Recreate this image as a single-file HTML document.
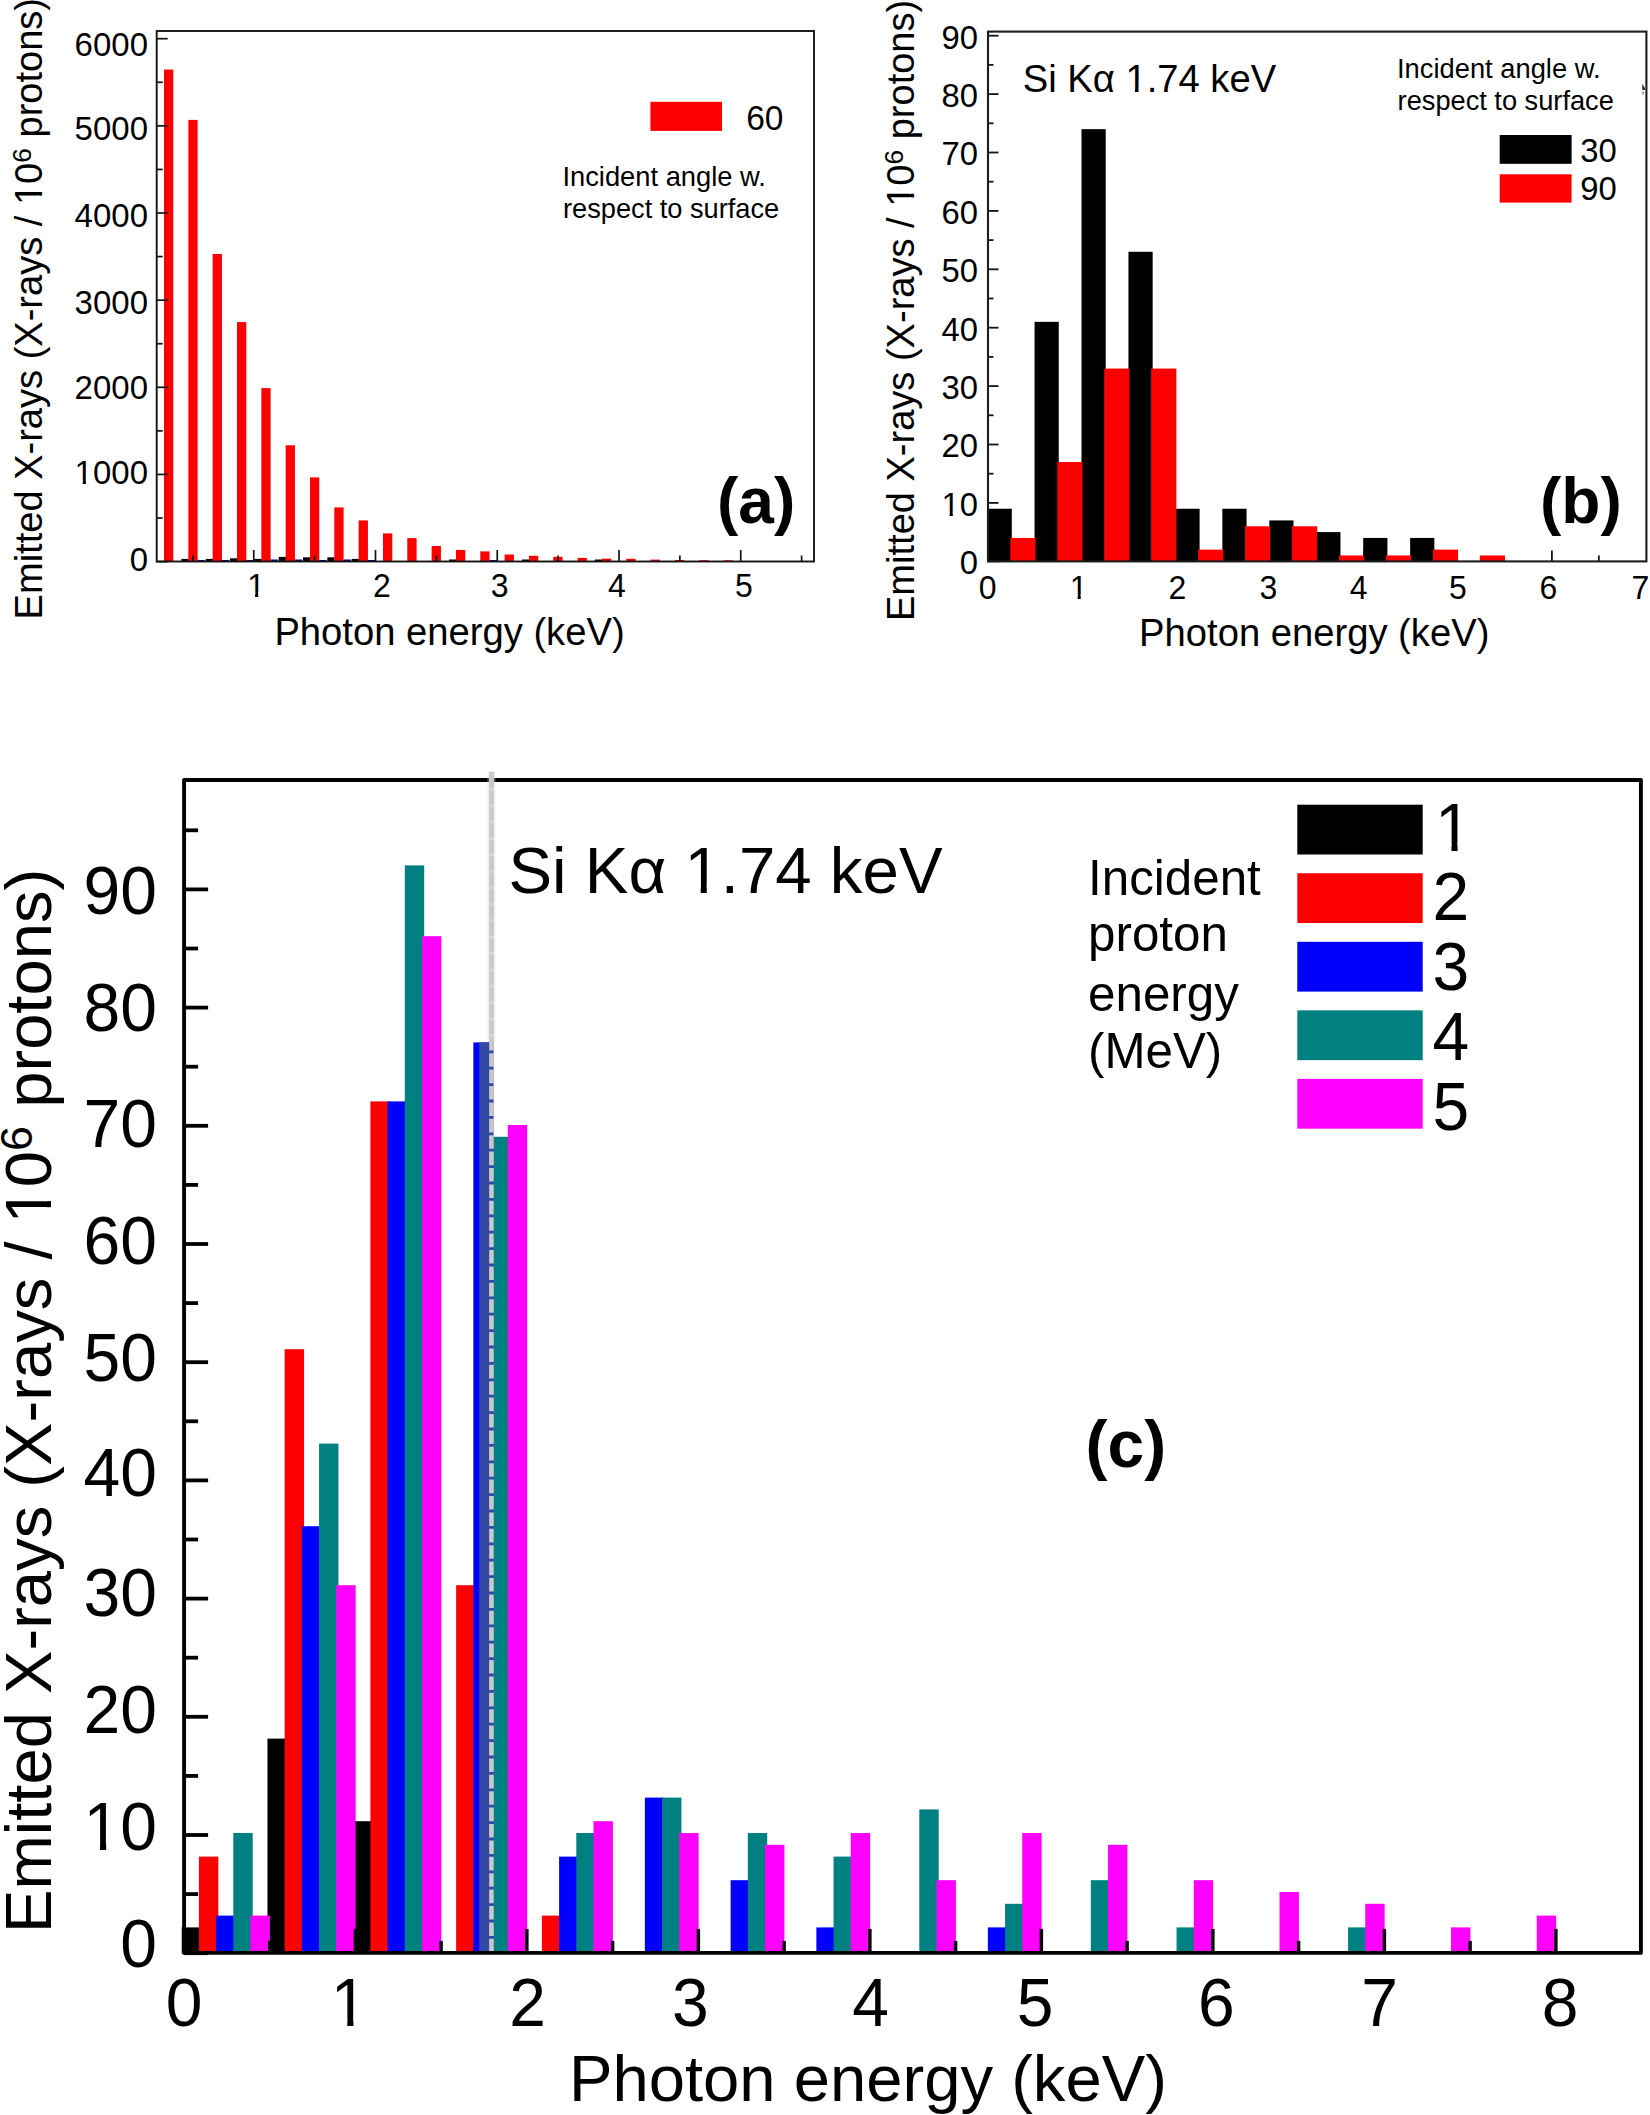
<!DOCTYPE html>
<html lang="en">
<head>
<meta charset="utf-8">
<title>Emitted X-rays vs photon energy</title>
<style>
html,body{margin:0;padding:0;background:#fff;}
body{width:1650px;height:2115px;overflow:hidden;}
svg{display:block;font-family:"Liberation Sans", sans-serif;fill:#000;}
</style>
</head>
<body>
<svg width="1650" height="2115" viewBox="0 0 1650 2115" shape-rendering="geometricPrecision">
<rect x="0" y="0" width="1650" height="2115" fill="#ffffff"/>
<rect x="164.00" y="69.60" width="9.30" height="491.90" fill="#ff0000"/>
<rect x="181.38" y="558.90" width="7.20" height="2.60" fill="#000"/>
<rect x="197.58" y="560.00" width="7.20" height="1.50" fill="#00008b"/>
<rect x="188.33" y="119.90" width="9.30" height="441.60" fill="#ff0000"/>
<rect x="205.71" y="558.90" width="7.20" height="2.60" fill="#000"/>
<rect x="221.91" y="560.00" width="7.20" height="1.50" fill="#00008b"/>
<rect x="212.66" y="254.00" width="9.30" height="307.50" fill="#ff0000"/>
<rect x="230.04" y="558.30" width="7.20" height="3.20" fill="#000"/>
<rect x="246.24" y="560.00" width="7.20" height="1.50" fill="#00008b"/>
<rect x="236.99" y="322.10" width="9.30" height="239.40" fill="#ff0000"/>
<rect x="254.37" y="558.90" width="7.20" height="2.60" fill="#000"/>
<rect x="270.57" y="559.50" width="7.20" height="2.00" fill="#00008b"/>
<rect x="261.32" y="388.10" width="9.30" height="173.40" fill="#ff0000"/>
<rect x="278.70" y="556.90" width="7.20" height="4.60" fill="#000"/>
<rect x="294.90" y="559.50" width="7.20" height="2.00" fill="#00008b"/>
<rect x="285.65" y="445.30" width="9.30" height="116.20" fill="#ff0000"/>
<rect x="303.03" y="557.30" width="7.20" height="4.20" fill="#000"/>
<rect x="319.23" y="560.00" width="7.20" height="1.50" fill="#00008b"/>
<rect x="309.98" y="477.40" width="9.30" height="84.10" fill="#ff0000"/>
<rect x="327.36" y="557.30" width="7.20" height="4.20" fill="#000"/>
<rect x="343.56" y="559.50" width="7.20" height="2.00" fill="#00008b"/>
<rect x="334.31" y="507.40" width="9.30" height="54.10" fill="#ff0000"/>
<rect x="351.69" y="558.90" width="7.20" height="2.60" fill="#000"/>
<rect x="367.89" y="560.00" width="7.20" height="1.50" fill="#00008b"/>
<rect x="358.64" y="520.40" width="9.30" height="41.10" fill="#ff0000"/>
<rect x="382.97" y="533.40" width="9.30" height="28.10" fill="#ff0000"/>
<rect x="407.30" y="538.10" width="9.30" height="23.40" fill="#ff0000"/>
<rect x="431.63" y="546.00" width="9.30" height="15.50" fill="#ff0000"/>
<rect x="449.01" y="559.50" width="7.20" height="2.00" fill="#000"/>
<rect x="455.96" y="549.90" width="9.30" height="11.60" fill="#ff0000"/>
<rect x="489.54" y="560.00" width="7.20" height="1.50" fill="#00008b"/>
<rect x="480.29" y="551.40" width="9.30" height="10.10" fill="#ff0000"/>
<rect x="504.62" y="554.50" width="9.30" height="7.00" fill="#ff0000"/>
<rect x="522.00" y="559.50" width="7.20" height="2.00" fill="#000"/>
<rect x="528.95" y="555.80" width="9.30" height="5.70" fill="#ff0000"/>
<rect x="553.28" y="556.80" width="9.30" height="4.70" fill="#ff0000"/>
<rect x="577.61" y="557.90" width="9.30" height="3.60" fill="#ff0000"/>
<rect x="594.99" y="559.50" width="7.20" height="2.00" fill="#000"/>
<rect x="601.94" y="558.60" width="9.30" height="2.90" fill="#ff0000"/>
<rect x="626.27" y="558.80" width="9.30" height="2.70" fill="#ff0000"/>
<rect x="650.60" y="559.60" width="9.30" height="1.90" fill="#ff0000"/>
<rect x="674.93" y="560.00" width="9.30" height="1.50" fill="#ff0000"/>
<rect x="699.26" y="560.20" width="9.30" height="1.30" fill="#ff0000"/>
<rect x="723.59" y="560.30" width="9.30" height="1.20" fill="#ff0000"/>
<line x1="156.70" y1="561.60" x2="167.70" y2="561.60" stroke="#141414" stroke-width="1.7"/>
<line x1="156.70" y1="518.02" x2="162.70" y2="518.02" stroke="#141414" stroke-width="1.7"/>
<line x1="156.70" y1="474.45" x2="167.70" y2="474.45" stroke="#141414" stroke-width="1.7"/>
<line x1="156.70" y1="430.88" x2="162.70" y2="430.88" stroke="#141414" stroke-width="1.7"/>
<line x1="156.70" y1="387.30" x2="167.70" y2="387.30" stroke="#141414" stroke-width="1.7"/>
<line x1="156.70" y1="343.73" x2="162.70" y2="343.73" stroke="#141414" stroke-width="1.7"/>
<line x1="156.70" y1="300.15" x2="167.70" y2="300.15" stroke="#141414" stroke-width="1.7"/>
<line x1="156.70" y1="256.57" x2="162.70" y2="256.57" stroke="#141414" stroke-width="1.7"/>
<line x1="156.70" y1="213.00" x2="167.70" y2="213.00" stroke="#141414" stroke-width="1.7"/>
<line x1="156.70" y1="169.43" x2="162.70" y2="169.43" stroke="#141414" stroke-width="1.7"/>
<line x1="156.70" y1="125.85" x2="167.70" y2="125.85" stroke="#141414" stroke-width="1.7"/>
<line x1="156.70" y1="82.27" x2="162.70" y2="82.27" stroke="#141414" stroke-width="1.7"/>
<line x1="156.70" y1="38.70" x2="167.70" y2="38.70" stroke="#141414" stroke-width="1.7"/>
<line x1="192.88" y1="561.50" x2="192.88" y2="555.50" stroke="#141414" stroke-width="1.7"/>
<line x1="253.75" y1="561.50" x2="253.75" y2="550.00" stroke="#141414" stroke-width="1.7"/>
<line x1="314.62" y1="561.50" x2="314.62" y2="555.50" stroke="#141414" stroke-width="1.7"/>
<line x1="375.50" y1="561.50" x2="375.50" y2="550.00" stroke="#141414" stroke-width="1.7"/>
<line x1="436.38" y1="561.50" x2="436.38" y2="555.50" stroke="#141414" stroke-width="1.7"/>
<line x1="497.25" y1="561.50" x2="497.25" y2="550.00" stroke="#141414" stroke-width="1.7"/>
<line x1="558.12" y1="561.50" x2="558.12" y2="555.50" stroke="#141414" stroke-width="1.7"/>
<line x1="619.00" y1="561.50" x2="619.00" y2="550.00" stroke="#141414" stroke-width="1.7"/>
<line x1="679.88" y1="561.50" x2="679.88" y2="555.50" stroke="#141414" stroke-width="1.7"/>
<line x1="740.75" y1="561.50" x2="740.75" y2="550.00" stroke="#141414" stroke-width="1.7"/>
<line x1="801.62" y1="561.50" x2="801.62" y2="555.50" stroke="#141414" stroke-width="1.7"/>
<rect x="156.7" y="31.0" width="657.3" height="530.5" fill="none" stroke="#141414" stroke-width="1.9"/>
<text transform="translate(148.00,571.20) scale(1,1.035)" font-size="33" text-anchor="end" font-weight="normal">0</text>
<text id="t0" transform="translate(148.00,484.40) scale(1,1.035)" font-size="33" text-anchor="end" font-weight="normal">1000</text>
<rect transform="translate(148.00,484.40) scale(1,1.035)" x="-71.89" y="-4.47" width="6.63" height="5.67" fill="#fff"/>
<rect transform="translate(148.00,484.40) scale(1,1.035)" x="-62.04" y="-4.47" width="6.38" height="5.67" fill="#fff"/>
<text transform="translate(148.00,398.90) scale(1,1.035)" font-size="33" text-anchor="end" font-weight="normal">2000</text>
<text transform="translate(148.00,313.80) scale(1,1.035)" font-size="33" text-anchor="end" font-weight="normal">3000</text>
<text transform="translate(148.00,227.00) scale(1,1.035)" font-size="33" text-anchor="end" font-weight="normal">4000</text>
<text transform="translate(148.00,140.40) scale(1,1.035)" font-size="33" text-anchor="end" font-weight="normal">5000</text>
<text transform="translate(148.00,55.80) scale(1,1.035)" font-size="33" text-anchor="end" font-weight="normal">6000</text>
<text id="t1" transform="translate(256.10,596.90) scale(1,1.035)" font-size="32" text-anchor="middle" font-weight="normal">1</text>
<rect transform="translate(256.10,596.90) scale(1,1.035)" x="-7.46" y="-4.39" width="6.46" height="5.59" fill="#fff"/>
<rect transform="translate(256.10,596.90) scale(1,1.035)" x="2.13" y="-4.39" width="6.21" height="5.59" fill="#fff"/>
<text transform="translate(381.80,596.90) scale(1,1.035)" font-size="32" text-anchor="middle" font-weight="normal">2</text>
<text transform="translate(499.60,596.90) scale(1,1.035)" font-size="32" text-anchor="middle" font-weight="normal">3</text>
<text transform="translate(616.80,596.90) scale(1,1.035)" font-size="32" text-anchor="middle" font-weight="normal">4</text>
<text transform="translate(743.90,596.90) scale(1,1.035)" font-size="32" text-anchor="middle" font-weight="normal">5</text>
<text x="274.40" y="645.10" font-size="38.2" text-anchor="start" font-weight="normal">Photon energy (keV)</text>
<text id="t2" transform="translate(42.00,619.40) rotate(-90)" font-size="38.06">Emitted X-rays (X-rays / 10<tspan font-size="26.26" dy="-10.85">6</tspan><tspan dy="10.85"> protons)</tspan></text>
<rect transform="translate(42.00,619.40) rotate(-90)" x="416.24" y="-4.84" width="7.52" height="6.04" fill="#fff"/>
<rect transform="translate(42.00,619.40) rotate(-90)" x="427.43" y="-4.84" width="7.23" height="6.04" fill="#fff"/>
<rect x="650.40" y="101.80" width="71.60" height="29.10" fill="#ff0000"/>
<text transform="translate(746.20,129.50) scale(1,1.035)" font-size="33.5" text-anchor="start" font-weight="normal">60</text>
<text x="562.40" y="186.00" font-size="26.9" text-anchor="start" font-weight="normal" textLength="203.5" lengthAdjust="spacingAndGlyphs">Incident angle w.</text>
<text x="563.00" y="218.40" font-size="26.9" text-anchor="start" font-weight="normal" textLength="216.2" lengthAdjust="spacingAndGlyphs">respect to surface</text>
<text x="717.00" y="523.30" font-size="64" text-anchor="start" font-weight="bold">(a)</text>
<line x1="988.00" y1="561.30" x2="998.50" y2="561.30" stroke="#141414" stroke-width="1.8"/>
<line x1="988.00" y1="532.10" x2="993.50" y2="532.10" stroke="#141414" stroke-width="1.8"/>
<line x1="988.00" y1="502.90" x2="998.50" y2="502.90" stroke="#141414" stroke-width="1.8"/>
<line x1="988.00" y1="473.70" x2="993.50" y2="473.70" stroke="#141414" stroke-width="1.8"/>
<line x1="988.00" y1="444.50" x2="998.50" y2="444.50" stroke="#141414" stroke-width="1.8"/>
<line x1="988.00" y1="415.30" x2="993.50" y2="415.30" stroke="#141414" stroke-width="1.8"/>
<line x1="988.00" y1="386.10" x2="998.50" y2="386.10" stroke="#141414" stroke-width="1.8"/>
<line x1="988.00" y1="356.90" x2="993.50" y2="356.90" stroke="#141414" stroke-width="1.8"/>
<line x1="988.00" y1="327.70" x2="998.50" y2="327.70" stroke="#141414" stroke-width="1.8"/>
<line x1="988.00" y1="298.50" x2="993.50" y2="298.50" stroke="#141414" stroke-width="1.8"/>
<line x1="988.00" y1="269.30" x2="998.50" y2="269.30" stroke="#141414" stroke-width="1.8"/>
<line x1="988.00" y1="240.10" x2="993.50" y2="240.10" stroke="#141414" stroke-width="1.8"/>
<line x1="988.00" y1="210.90" x2="998.50" y2="210.90" stroke="#141414" stroke-width="1.8"/>
<line x1="988.00" y1="181.70" x2="993.50" y2="181.70" stroke="#141414" stroke-width="1.8"/>
<line x1="988.00" y1="152.50" x2="998.50" y2="152.50" stroke="#141414" stroke-width="1.8"/>
<line x1="988.00" y1="123.30" x2="993.50" y2="123.30" stroke="#141414" stroke-width="1.8"/>
<line x1="988.00" y1="94.10" x2="998.50" y2="94.10" stroke="#141414" stroke-width="1.8"/>
<line x1="988.00" y1="64.90" x2="993.50" y2="64.90" stroke="#141414" stroke-width="1.8"/>
<line x1="988.00" y1="35.70" x2="998.50" y2="35.70" stroke="#141414" stroke-width="1.8"/>
<line x1="1035.45" y1="561.40" x2="1035.45" y2="555.40" stroke="#141414" stroke-width="1.8"/>
<line x1="1082.40" y1="561.40" x2="1082.40" y2="550.40" stroke="#141414" stroke-width="1.8"/>
<line x1="1129.35" y1="561.40" x2="1129.35" y2="555.40" stroke="#141414" stroke-width="1.8"/>
<line x1="1176.30" y1="561.40" x2="1176.30" y2="550.40" stroke="#141414" stroke-width="1.8"/>
<line x1="1223.25" y1="561.40" x2="1223.25" y2="555.40" stroke="#141414" stroke-width="1.8"/>
<line x1="1270.20" y1="561.40" x2="1270.20" y2="550.40" stroke="#141414" stroke-width="1.8"/>
<line x1="1317.15" y1="561.40" x2="1317.15" y2="555.40" stroke="#141414" stroke-width="1.8"/>
<line x1="1364.10" y1="561.40" x2="1364.10" y2="550.40" stroke="#141414" stroke-width="1.8"/>
<line x1="1411.05" y1="561.40" x2="1411.05" y2="555.40" stroke="#141414" stroke-width="1.8"/>
<line x1="1551.90" y1="561.40" x2="1551.90" y2="550.40" stroke="#141414" stroke-width="1.8"/>
<line x1="1598.85" y1="561.40" x2="1598.85" y2="555.40" stroke="#141414" stroke-width="1.8"/>
<rect x="987.60" y="508.74" width="24.20" height="52.56" fill="#000"/>
<rect x="1034.55" y="321.86" width="24.20" height="239.44" fill="#000"/>
<rect x="1081.50" y="129.14" width="24.20" height="432.16" fill="#000"/>
<rect x="1128.45" y="251.78" width="24.20" height="309.52" fill="#000"/>
<rect x="1175.40" y="508.74" width="24.20" height="52.56" fill="#000"/>
<rect x="1222.35" y="508.74" width="24.20" height="52.56" fill="#000"/>
<rect x="1269.30" y="520.42" width="24.20" height="40.88" fill="#000"/>
<rect x="1316.25" y="532.10" width="24.20" height="29.20" fill="#000"/>
<rect x="1363.20" y="537.94" width="24.20" height="23.36" fill="#000"/>
<rect x="1410.15" y="537.94" width="24.20" height="23.36" fill="#000"/>
<rect x="1010.30" y="537.94" width="25.20" height="23.36" fill="#ff0000"/>
<rect x="1057.25" y="462.02" width="25.20" height="99.28" fill="#ff0000"/>
<rect x="1104.20" y="368.58" width="25.20" height="192.72" fill="#ff0000"/>
<rect x="1151.15" y="368.58" width="25.20" height="192.72" fill="#ff0000"/>
<rect x="1198.10" y="549.62" width="25.20" height="11.68" fill="#ff0000"/>
<rect x="1245.05" y="526.26" width="25.20" height="35.04" fill="#ff0000"/>
<rect x="1292.00" y="526.26" width="25.20" height="35.04" fill="#ff0000"/>
<rect x="1338.95" y="555.46" width="25.20" height="5.84" fill="#ff0000"/>
<rect x="1385.90" y="555.46" width="25.20" height="5.84" fill="#ff0000"/>
<rect x="1432.85" y="549.62" width="25.20" height="11.68" fill="#ff0000"/>
<rect x="1479.80" y="555.46" width="25.20" height="5.84" fill="#ff0000"/>
<rect x="988.0" y="31.6" width="658.4000000000001" height="529.8" fill="none" stroke="#1c1c1c" stroke-width="2.1"/>
<path d="M1642.2 84 L1644.9 88 L1644.9 89.9 L1642.4 89.9Z" fill="#1a1f45"/>
<path d="M1642.3 91.5 L1644.2 91.8 L1643.7 94 L1642.2 95Z" fill="#8a8f96"/>
<text transform="translate(978.00,574.20) scale(1,1.035)" font-size="32.8" text-anchor="end" font-weight="normal">0</text>
<text id="t3" transform="translate(978.00,515.80) scale(1,1.035)" font-size="32.8" text-anchor="end" font-weight="normal">10</text>
<rect transform="translate(978.00,515.80) scale(1,1.035)" x="-34.97" y="-4.45" width="6.60" height="5.65" fill="#fff"/>
<rect transform="translate(978.00,515.80) scale(1,1.035)" x="-25.17" y="-4.45" width="6.34" height="5.65" fill="#fff"/>
<text transform="translate(978.00,457.40) scale(1,1.035)" font-size="32.8" text-anchor="end" font-weight="normal">20</text>
<text transform="translate(978.00,399.00) scale(1,1.035)" font-size="32.8" text-anchor="end" font-weight="normal">30</text>
<text transform="translate(978.00,340.60) scale(1,1.035)" font-size="32.8" text-anchor="end" font-weight="normal">40</text>
<text transform="translate(978.00,282.20) scale(1,1.035)" font-size="32.8" text-anchor="end" font-weight="normal">50</text>
<text transform="translate(978.00,223.80) scale(1,1.035)" font-size="32.8" text-anchor="end" font-weight="normal">60</text>
<text transform="translate(978.00,165.40) scale(1,1.035)" font-size="32.8" text-anchor="end" font-weight="normal">70</text>
<text transform="translate(978.00,107.00) scale(1,1.035)" font-size="32.8" text-anchor="end" font-weight="normal">80</text>
<text transform="translate(978.00,48.60) scale(1,1.035)" font-size="32.8" text-anchor="end" font-weight="normal">90</text>
<text transform="translate(987.60,598.80) scale(1,1.035)" font-size="32" text-anchor="middle" font-weight="normal">0</text>
<text id="t4" transform="translate(1078.60,598.80) scale(1,1.035)" font-size="32" text-anchor="middle" font-weight="normal">1</text>
<rect transform="translate(1078.60,598.80) scale(1,1.035)" x="-7.46" y="-4.39" width="6.46" height="5.59" fill="#fff"/>
<rect transform="translate(1078.60,598.80) scale(1,1.035)" x="2.13" y="-4.39" width="6.21" height="5.59" fill="#fff"/>
<text transform="translate(1177.40,598.80) scale(1,1.035)" font-size="32" text-anchor="middle" font-weight="normal">2</text>
<text transform="translate(1268.30,598.80) scale(1,1.035)" font-size="32" text-anchor="middle" font-weight="normal">3</text>
<text transform="translate(1358.70,598.80) scale(1,1.035)" font-size="32" text-anchor="middle" font-weight="normal">4</text>
<text transform="translate(1457.80,598.80) scale(1,1.035)" font-size="32" text-anchor="middle" font-weight="normal">5</text>
<text transform="translate(1548.30,598.80) scale(1,1.035)" font-size="32" text-anchor="middle" font-weight="normal">6</text>
<text transform="translate(1640.40,598.80) scale(1,1.035)" font-size="32" text-anchor="middle" font-weight="normal">7</text>
<text x="1139.10" y="645.50" font-size="38.2" text-anchor="start" font-weight="normal">Photon energy (keV)</text>
<text id="t5" transform="translate(914.00,621.00) rotate(-90)" font-size="38.04">Emitted X-rays (X-rays / 10<tspan font-size="26.25" dy="-10.84">6</tspan><tspan dy="10.84"> protons)</tspan></text>
<rect transform="translate(914.00,621.00) rotate(-90)" x="416.07" y="-4.84" width="7.52" height="6.04" fill="#fff"/>
<rect transform="translate(914.00,621.00) rotate(-90)" x="427.25" y="-4.84" width="7.22" height="6.04" fill="#fff"/>
<text id="t6" x="1022.70" y="92.10" font-size="38.2" text-anchor="start" font-weight="normal">Si Kα 1.74 keV</text>
<rect x="1127.33" y="87.25" width="7.55" height="6.05" fill="#fff"/>
<rect x="1138.55" y="87.25" width="7.25" height="6.05" fill="#fff"/>
<text x="1397.00" y="77.60" font-size="26.9" text-anchor="start" font-weight="normal" textLength="203.5" lengthAdjust="spacingAndGlyphs">Incident angle w.</text>
<text x="1397.60" y="110.00" font-size="26.9" text-anchor="start" font-weight="normal" textLength="216.2" lengthAdjust="spacingAndGlyphs">respect to surface</text>
<rect x="1499.70" y="135.00" width="71.90" height="28.80" fill="#000"/>
<rect x="1499.70" y="174.30" width="71.90" height="28.30" fill="#ff0000"/>
<text transform="translate(1580.30,162.30) scale(1,1.035)" font-size="32.8" text-anchor="start" font-weight="normal">30</text>
<text transform="translate(1580.30,200.40) scale(1,1.035)" font-size="32.8" text-anchor="start" font-weight="normal">90</text>
<text x="1540.00" y="523.30" font-size="64" text-anchor="start" font-weight="bold">(b)</text>
<rect x="181.70" y="1927.40" width="19.40" height="26.10" fill="#000000"/>
<rect x="267.45" y="1738.60" width="19.40" height="214.90" fill="#000000"/>
<rect x="353.20" y="1821.20" width="19.40" height="132.30" fill="#000000"/>
<rect x="198.90" y="1856.60" width="19.40" height="96.90" fill="#ff0000"/>
<rect x="284.65" y="1349.20" width="19.40" height="604.30" fill="#ff0000"/>
<rect x="370.40" y="1101.40" width="19.40" height="852.10" fill="#ff0000"/>
<rect x="456.15" y="1585.20" width="19.40" height="368.30" fill="#ff0000"/>
<rect x="541.90" y="1915.60" width="19.40" height="37.90" fill="#ff0000"/>
<rect x="216.10" y="1915.60" width="19.40" height="37.90" fill="#0000ff"/>
<rect x="301.85" y="1526.20" width="19.40" height="427.30" fill="#0000ff"/>
<rect x="387.60" y="1101.40" width="19.40" height="852.10" fill="#0000ff"/>
<rect x="473.35" y="1042.40" width="19.40" height="911.10" fill="#0000ff"/>
<rect x="559.10" y="1856.60" width="19.40" height="96.90" fill="#0000ff"/>
<rect x="644.85" y="1797.60" width="19.40" height="155.90" fill="#0000ff"/>
<rect x="730.60" y="1880.20" width="19.40" height="73.30" fill="#0000ff"/>
<rect x="816.35" y="1927.40" width="19.40" height="26.10" fill="#0000ff"/>
<rect x="987.85" y="1927.40" width="19.40" height="26.10" fill="#0000ff"/>
<rect x="233.30" y="1833.00" width="19.40" height="120.50" fill="#008080"/>
<rect x="319.05" y="1443.60" width="19.40" height="509.90" fill="#008080"/>
<rect x="404.80" y="865.40" width="19.40" height="1088.10" fill="#008080"/>
<rect x="490.55" y="1136.80" width="19.40" height="816.70" fill="#008080"/>
<rect x="576.30" y="1833.00" width="19.40" height="120.50" fill="#008080"/>
<rect x="662.05" y="1797.60" width="19.40" height="155.90" fill="#008080"/>
<rect x="747.80" y="1833.00" width="19.40" height="120.50" fill="#008080"/>
<rect x="833.55" y="1856.60" width="19.40" height="96.90" fill="#008080"/>
<rect x="919.30" y="1809.40" width="19.40" height="144.10" fill="#008080"/>
<rect x="1005.05" y="1903.80" width="19.40" height="49.70" fill="#008080"/>
<rect x="1090.80" y="1880.20" width="19.40" height="73.30" fill="#008080"/>
<rect x="1176.55" y="1927.40" width="19.40" height="26.10" fill="#008080"/>
<rect x="1348.05" y="1927.40" width="19.40" height="26.10" fill="#008080"/>
<rect x="250.50" y="1915.60" width="19.40" height="37.90" fill="#ff00ff"/>
<rect x="336.25" y="1585.20" width="19.40" height="368.30" fill="#ff00ff"/>
<rect x="422.00" y="936.20" width="19.40" height="1017.30" fill="#ff00ff"/>
<rect x="507.75" y="1125.00" width="19.40" height="828.50" fill="#ff00ff"/>
<rect x="593.50" y="1821.20" width="19.40" height="132.30" fill="#ff00ff"/>
<rect x="679.25" y="1833.00" width="19.40" height="120.50" fill="#ff00ff"/>
<rect x="765.00" y="1844.80" width="19.40" height="108.70" fill="#ff00ff"/>
<rect x="850.75" y="1833.00" width="19.40" height="120.50" fill="#ff00ff"/>
<rect x="936.50" y="1880.20" width="19.40" height="73.30" fill="#ff00ff"/>
<rect x="1022.25" y="1833.00" width="19.40" height="120.50" fill="#ff00ff"/>
<rect x="1108.00" y="1844.80" width="19.40" height="108.70" fill="#ff00ff"/>
<rect x="1193.75" y="1880.20" width="19.40" height="73.30" fill="#ff00ff"/>
<rect x="1279.50" y="1892.00" width="19.40" height="61.50" fill="#ff00ff"/>
<rect x="1365.25" y="1903.80" width="19.40" height="49.70" fill="#ff00ff"/>
<rect x="1451.00" y="1927.40" width="19.40" height="26.10" fill="#ff00ff"/>
<rect x="1536.75" y="1915.60" width="19.40" height="37.90" fill="#ff00ff"/>
<rect x="479.20" y="1042.40" width="14.40" height="909.60" fill="#3347a5"/>
<line x1="184.10" y1="1953.20" x2="208.10" y2="1953.20" stroke="#000" stroke-width="3.8"/>
<line x1="184.10" y1="1894.10" x2="198.10" y2="1894.10" stroke="#000" stroke-width="3.8"/>
<line x1="184.10" y1="1835.00" x2="208.10" y2="1835.00" stroke="#000" stroke-width="3.8"/>
<line x1="184.10" y1="1775.90" x2="198.10" y2="1775.90" stroke="#000" stroke-width="3.8"/>
<line x1="184.10" y1="1716.80" x2="208.10" y2="1716.80" stroke="#000" stroke-width="3.8"/>
<line x1="184.10" y1="1657.70" x2="198.10" y2="1657.70" stroke="#000" stroke-width="3.8"/>
<line x1="184.10" y1="1598.60" x2="208.10" y2="1598.60" stroke="#000" stroke-width="3.8"/>
<line x1="184.10" y1="1539.50" x2="198.10" y2="1539.50" stroke="#000" stroke-width="3.8"/>
<line x1="184.10" y1="1480.40" x2="208.10" y2="1480.40" stroke="#000" stroke-width="3.8"/>
<line x1="184.10" y1="1421.30" x2="198.10" y2="1421.30" stroke="#000" stroke-width="3.8"/>
<line x1="184.10" y1="1362.20" x2="208.10" y2="1362.20" stroke="#000" stroke-width="3.8"/>
<line x1="184.10" y1="1303.10" x2="198.10" y2="1303.10" stroke="#000" stroke-width="3.8"/>
<line x1="184.10" y1="1244.00" x2="208.10" y2="1244.00" stroke="#000" stroke-width="3.8"/>
<line x1="184.10" y1="1184.90" x2="198.10" y2="1184.90" stroke="#000" stroke-width="3.8"/>
<line x1="184.10" y1="1125.80" x2="208.10" y2="1125.80" stroke="#000" stroke-width="3.8"/>
<line x1="184.10" y1="1066.70" x2="198.10" y2="1066.70" stroke="#000" stroke-width="3.8"/>
<line x1="184.10" y1="1007.60" x2="208.10" y2="1007.60" stroke="#000" stroke-width="3.8"/>
<line x1="184.10" y1="948.50" x2="198.10" y2="948.50" stroke="#000" stroke-width="3.8"/>
<line x1="184.10" y1="889.40" x2="208.10" y2="889.40" stroke="#000" stroke-width="3.8"/>
<line x1="184.10" y1="830.30" x2="198.10" y2="830.30" stroke="#000" stroke-width="3.8"/>
<line x1="269.65" y1="1952.90" x2="269.65" y2="1940.90" stroke="#000" stroke-width="3.4"/>
<line x1="355.40" y1="1952.90" x2="355.40" y2="1928.90" stroke="#000" stroke-width="3.4"/>
<line x1="441.15" y1="1952.90" x2="441.15" y2="1940.90" stroke="#000" stroke-width="3.4"/>
<line x1="526.90" y1="1952.90" x2="526.90" y2="1928.90" stroke="#000" stroke-width="3.4"/>
<line x1="612.65" y1="1952.90" x2="612.65" y2="1940.90" stroke="#000" stroke-width="3.4"/>
<line x1="698.40" y1="1952.90" x2="698.40" y2="1928.90" stroke="#000" stroke-width="3.4"/>
<line x1="784.15" y1="1952.90" x2="784.15" y2="1940.90" stroke="#000" stroke-width="3.4"/>
<line x1="869.90" y1="1952.90" x2="869.90" y2="1928.90" stroke="#000" stroke-width="3.4"/>
<line x1="955.65" y1="1952.90" x2="955.65" y2="1940.90" stroke="#000" stroke-width="3.4"/>
<line x1="1041.40" y1="1952.90" x2="1041.40" y2="1928.90" stroke="#000" stroke-width="3.4"/>
<line x1="1127.15" y1="1952.90" x2="1127.15" y2="1940.90" stroke="#000" stroke-width="3.4"/>
<line x1="1212.90" y1="1952.90" x2="1212.90" y2="1928.90" stroke="#000" stroke-width="3.4"/>
<line x1="1298.65" y1="1952.90" x2="1298.65" y2="1940.90" stroke="#000" stroke-width="3.4"/>
<line x1="1384.40" y1="1952.90" x2="1384.40" y2="1928.90" stroke="#000" stroke-width="3.4"/>
<line x1="1470.15" y1="1952.90" x2="1470.15" y2="1940.90" stroke="#000" stroke-width="3.4"/>
<line x1="1555.90" y1="1952.90" x2="1555.90" y2="1928.90" stroke="#000" stroke-width="3.4"/>
<rect x="184.1" y="780.0" width="1456.8000000000002" height="1172.9" fill="none" stroke="#000" stroke-width="3.9" stroke-linejoin="round"/>
<line x1="491.45" y1="771.8" x2="491.45" y2="1042" stroke="#dcdcdc" stroke-width="8" opacity="0.4"/>
<line x1="491.45" y1="771.8" x2="491.45" y2="1042" stroke="#cdcdcd" stroke-width="4.6" opacity="0.75"/>
<line x1="491.45" y1="771.8" x2="491.45" y2="774.6" stroke="#c9c9c9" stroke-width="4.6"/>
<line x1="491.45" y1="774.4" x2="491.45" y2="1951" stroke="#c9c9c9" stroke-width="4.6" stroke-dasharray="13.6 2.8"/>
<text transform="translate(157.00,1967.00) scale(1,1.035)" font-size="66" text-anchor="end" font-weight="normal">0</text>
<text id="t7" transform="translate(157.00,1849.90) scale(1,1.035)" font-size="66" text-anchor="end" font-weight="normal">10</text>
<rect transform="translate(157.00,1849.90) scale(1,1.035)" x="-69.38" y="-6.93" width="12.42" height="8.13" fill="#fff"/>
<rect transform="translate(157.00,1849.90) scale(1,1.035)" x="-50.83" y="-6.93" width="11.91" height="8.13" fill="#fff"/>
<text transform="translate(157.00,1732.80) scale(1,1.035)" font-size="66" text-anchor="end" font-weight="normal">20</text>
<text transform="translate(157.00,1615.70) scale(1,1.035)" font-size="66" text-anchor="end" font-weight="normal">30</text>
<text transform="translate(157.00,1496.40) scale(1,1.035)" font-size="66" text-anchor="end" font-weight="normal">40</text>
<text transform="translate(157.00,1381.20) scale(1,1.035)" font-size="66" text-anchor="end" font-weight="normal">50</text>
<text transform="translate(157.00,1263.90) scale(1,1.035)" font-size="66" text-anchor="end" font-weight="normal">60</text>
<text transform="translate(157.00,1147.30) scale(1,1.035)" font-size="66" text-anchor="end" font-weight="normal">70</text>
<text transform="translate(157.00,1030.60) scale(1,1.035)" font-size="66" text-anchor="end" font-weight="normal">80</text>
<text transform="translate(157.00,913.80) scale(1,1.035)" font-size="66" text-anchor="end" font-weight="normal">90</text>
<text transform="translate(184.00,2026.10) scale(1,1.035)" font-size="66" text-anchor="middle" font-weight="normal">0</text>
<text id="t8" transform="translate(349.20,2026.10) scale(1,1.035)" font-size="66" text-anchor="middle" font-weight="normal">1</text>
<rect transform="translate(349.20,2026.10) scale(1,1.035)" x="-14.33" y="-6.93" width="12.42" height="8.13" fill="#fff"/>
<rect transform="translate(349.20,2026.10) scale(1,1.035)" x="4.22" y="-6.93" width="11.90" height="8.13" fill="#fff"/>
<text transform="translate(527.60,2026.10) scale(1,1.035)" font-size="66" text-anchor="middle" font-weight="normal">2</text>
<text transform="translate(690.40,2026.10) scale(1,1.035)" font-size="66" text-anchor="middle" font-weight="normal">3</text>
<text transform="translate(870.60,2026.10) scale(1,1.035)" font-size="66" text-anchor="middle" font-weight="normal">4</text>
<text transform="translate(1035.00,2026.10) scale(1,1.035)" font-size="66" text-anchor="middle" font-weight="normal">5</text>
<text transform="translate(1216.40,2026.10) scale(1,1.035)" font-size="66" text-anchor="middle" font-weight="normal">6</text>
<text transform="translate(1379.50,2026.10) scale(1,1.035)" font-size="66" text-anchor="middle" font-weight="normal">7</text>
<text transform="translate(1560.20,2026.10) scale(1,1.035)" font-size="66" text-anchor="middle" font-weight="normal">8</text>
<text x="569.00" y="2100.80" font-size="65.2" text-anchor="start" font-weight="normal">Photon energy (keV)</text>
<text id="t9" transform="translate(50.90,1933.00) rotate(-90)" font-size="65.17">Emitted X-rays (X-rays / 10<tspan font-size="44.97" dy="-18.57">6</tspan><tspan dy="18.57"> protons)</tspan></text>
<rect transform="translate(50.90,1933.00) rotate(-90)" x="713.54" y="-6.87" width="12.27" height="8.07" fill="#fff"/>
<rect transform="translate(50.90,1933.00) rotate(-90)" x="731.87" y="-6.87" width="11.77" height="8.07" fill="#fff"/>
<text id="t10" x="508.50" y="893.30" font-size="65.4" text-anchor="start" font-weight="normal">Si Kα 1.74 keV</text>
<rect x="688.37" y="886.41" width="12.31" height="8.09" fill="#fff"/>
<rect x="706.76" y="886.41" width="11.80" height="8.09" fill="#fff"/>
<text x="1088.10" y="894.60" font-size="49.3" text-anchor="start" font-weight="normal">Incident</text>
<text x="1088.10" y="951.30" font-size="49.3" text-anchor="start" font-weight="normal">proton</text>
<text x="1088.10" y="1011.10" font-size="49.3" text-anchor="start" font-weight="normal">energy</text>
<text x="1088.10" y="1068.00" font-size="49.3" text-anchor="start" font-weight="normal">(MeV)</text>
<rect x="1297.30" y="804.70" width="125.40" height="49.80" fill="#000000"/>
<text id="t11" transform="translate(1435.00,850.90) scale(1,1.035)" font-size="66" text-anchor="start" font-weight="normal">1</text>
<rect transform="translate(1435.00,850.90) scale(1,1.035)" x="4.03" y="-6.93" width="12.42" height="8.13" fill="#fff"/>
<rect transform="translate(1435.00,850.90) scale(1,1.035)" x="22.58" y="-6.93" width="11.91" height="8.13" fill="#fff"/>
<rect x="1297.30" y="873.25" width="125.40" height="49.80" fill="#ff0000"/>
<text transform="translate(1432.50,919.50) scale(1,1.035)" font-size="66" text-anchor="start" font-weight="normal">2</text>
<rect x="1297.30" y="941.80" width="125.40" height="49.80" fill="#0000ff"/>
<text transform="translate(1432.50,989.60) scale(1,1.035)" font-size="66" text-anchor="start" font-weight="normal">3</text>
<rect x="1297.30" y="1010.35" width="125.40" height="49.80" fill="#008080"/>
<text transform="translate(1432.50,1059.70) scale(1,1.035)" font-size="66" text-anchor="start" font-weight="normal">4</text>
<rect x="1297.30" y="1078.90" width="125.40" height="49.80" fill="#ff00ff"/>
<text transform="translate(1432.50,1129.80) scale(1,1.035)" font-size="66" text-anchor="start" font-weight="normal">5</text>
<text x="1085.50" y="1467.20" font-size="66" text-anchor="start" font-weight="bold">(c)</text>
</svg>
</body>
</html>
